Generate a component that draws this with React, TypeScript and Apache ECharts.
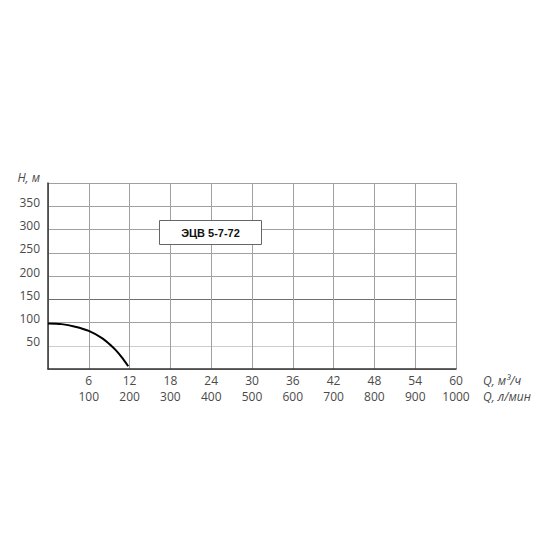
import { useEffect, useRef } from 'react';
import * as echarts from 'echarts';

// напорная характеристика: Q (м³/ч) -> H (м)
const curveQ = [0, 2, 4, 6, 8, 9.3, 10, 10.8, 11.8];
const curveH = [98, 96.5, 91, 82, 66, 50, 40, 26, 6];

const qTicks = [6, 12, 18, 24, 30, 36, 42, 48, 54, 60];
const lminTicks = [100, 200, 300, 400, 500, 600, 700, 800, 900, 1000];

const pumpName = 'ЭЦВ 5-7-72';

const labelColor = '#4a4a4a';
const font = '"Open Sans", sans-serif';

export default function App() {
  const chartRef = useRef<HTMLDivElement>(null);

  useEffect(() => {
    if (!chartRef.current) return;
    const chart = echarts.init(chartRef.current, undefined, { renderer: 'svg' });

    const option: echarts.EChartsOption = {
      animation: false,
      backgroundColor: '#fff',
      grid: { left: 48, top: 183, width: 408, height: 186 },
      xAxis: {
        type: 'value',
        min: 0,
        max: 60,
        interval: 6,
        axisLine: { show: true, lineStyle: { color: '#333', width: 1.5 } },
        axisTick: { show: false },
        splitLine: { show: true, lineStyle: { color: '#a0a0a0', width: 1 } },
        axisLabel: {
          margin: 3,
          formatter: (v: number) => {
            const i = qTicks.indexOf(v);
            if (i < 0) return '';
            return `{a|${qTicks[i]}}\n{b|${lminTicks[i]}}`;
          },
          rich: {
            a: { color: labelColor, fontSize: 12, fontFamily: font, lineHeight: 16 },
            b: { color: labelColor, fontSize: 12, fontFamily: font, lineHeight: 16 },
          },
        },
      },
      yAxis: {
        type: 'value',
        min: 0,
        max: 400,
        interval: 50,
        name: 'H, м',
        nameLocation: 'end',
        nameGap: 0,
        nameTextStyle: {
          color: labelColor, fontSize: 12, fontFamily: font, fontStyle: 'italic',
          align: 'right', padding: [0, 8, 0, 0],
        },
        axisLine: { show: true, lineStyle: { color: '#333', width: 1.5 } },
        axisTick: { show: false },
        splitLine: {
          show: true,
          lineStyle: {
            color: ['#a0a0a0', '#cccccc', '#a0a0a0', '#6e6e6e', '#a0a0a0', '#a0a0a0', '#a0a0a0', '#a0a0a0', '#a0a0a0'],
            width: 1,
          },
        },
        axisLabel: {
          color: labelColor, fontSize: 12, fontFamily: font, margin: 8,
          verticalAlign: 'bottom',
          lineHeight: 8,
          formatter: (v: number) => (v === 0 || v === 400 ? '' : String(v)),
        },
      },
      graphic: [
        {
          type: 'text', left: 483, top: 374, z: 100,
          style: { text: 'Q, м³/ч', fill: labelColor, fontSize: 12, fontFamily: font, fontStyle: 'italic' },
        },
        {
          type: 'text', left: 483, top: 390, z: 100,
          style: { text: 'Q, л/мин', fill: labelColor, fontSize: 12, fontFamily: font, fontStyle: 'italic' },
        },
        {
          type: 'group', left: 159, top: 220, z: 100,
          children: [
            {
              type: 'rect', z: 100, shape: { x: 0, y: 0, width: 102, height: 24 },
              style: { fill: '#fff', stroke: '#666', lineWidth: 1 },
            },
            {
              type: 'text', z: 101, x: 51, y: 12,
              style: {
                text: pumpName, fill: '#111', fontSize: 11, fontWeight: 'bold',
                fontFamily: '"Liberation Sans", Arial, sans-serif', align: 'center', verticalAlign: 'middle',
              },
            },
          ],
        },
      ],
      series: [
        {
          type: 'line',
          smooth: 0.3,
          showSymbol: false,
          lineStyle: { color: '#000', width: 2 },
          data: curveQ.map((q, i) => [q, curveH[i]]),
        },
      ],
    };

    chart.setOption(option);
    return () => chart.dispose();
  }, []);

  return (
    <div
      ref={chartRef}
      style={{ position: 'fixed', left: 0, top: 0, width: 550, height: 550 }}
    />
  );
}
